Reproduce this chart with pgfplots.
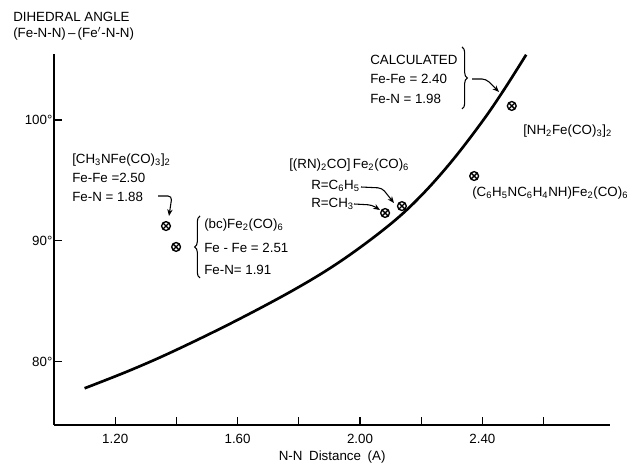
\documentclass[border=0pt]{standalone}
\usepackage{fontspec}
\setmainfont{Liberation Sans}
\usepackage{pgfplots}
\pgfplotsset{compat=1.18}
\usetikzlibrary{decorations.pathreplacing,arrows.meta,plotmarks}

\newcommand{\sub}[1]{\textsubscript{#1}}

\begin{document}
\begin{tikzpicture}
\begin{axis}[
  x=229.5pt, y=9.06pt,
  xmin=1.0, xmax=2.818, ymin=74.76, ymax=105.5,
  axis lines=left, axis line style={-, line width=0.9pt},
  tick align=inside, major tick length=6pt, minor tick length=6pt,
  tick style={line width=0.9pt, black},
  xtick={1.2,1.6,2.0,2.4}, xticklabels={1.20,1.60,2.00,2.40},
  minor xtick={1.4,1.8,2.2,2.6},
  ytick={80,90,100}, yticklabels={80°,90°,100°},
  ticklabel style={font=\fontsize{10}{12}\selectfont},
  xticklabel style={anchor=center, yshift=-10.5pt},
  yticklabel style={inner xsep=1pt},
  xlabel={N-N\enspace Distance\enspace (A)},
  xlabel style={at={(axis description cs:0.5,0)}, anchor=center, yshift=-24pt,
    font=\fontsize{10}{12}\selectfont},
  clip=false,
]
% calculated curve
\addplot[line width=2pt, smooth, tension=0.6, no markers] coordinates {
  (1.10,77.80) (1.25,79.30) (1.40,80.98) (1.60,83.46) (1.80,86.18)
  (1.95,88.55) (2.10,91.40) (2.20,93.75) (2.30,96.60) (2.40,99.90)
  (2.47,102.49) (2.543,105.41)
};
% observed compounds
\addplot[only marks, mark=otimes, mark size=3.3pt, line width=1pt] coordinates {
  (1.366,91.23) (1.399,89.50) (2.082,92.31) (2.137,92.88) (2.373,95.37) (2.496,101.17)
};
\coordinate (LL) at (rel axis cs:0,0);
\end{axis}

\begin{scope}[shift={(LL)}, xshift=-40.5pt, yshift=318.75pt, x=0.75pt, y=-0.75pt,
  every node/.style={inner sep=0pt, anchor=west, font=\fontsize{10}{12}\selectfont},
  arr/.style={line width=0.8pt, -{Stealth[length=5pt,width=4pt]}, rounded corners=3pt}]
\node at (13,17) {DIHEDRAL ANGLE};
\node at (13,34) {(Fe-N-N)\,--\,(Fe$'$-N-N)};

\node at (72,160) {[CH\sub{3}NFe(CO)\sub{3}]\sub{2}};
\node at (72,178) {Fe-Fe =2.50};
\node at (72,197) {Fe-N = 1.88};
\draw[arr] (158,196) -- (172,196) -- (169,216);

\draw[line width=0.8pt, decorate, decoration={brace, amplitude=4pt}] (200,278) -- (200,216);
\node at (204,225) {(bc)Fe\sub{2}(CO)\sub{6}};
\node at (204,248) {Fe - Fe = 2.51};
\node at (204,270) {Fe-N= 1.91};

\node at (289,165) {[(RN)\sub{2}CO]\,Fe\sub{2}(CO)\sub{6}};
\node at (311,186) {R=C\sub{6}H\sub{5}};
\node at (311,204) {R=CH\sub{3}};
\draw[arr] (361,187) -- (382,188) -- (394,203);
\draw[arr] (354,204) -- (372,205) -- (380,210);

\node at (370,60) {CALCULATED};
\node at (370,79) {Fe-Fe = 2.40};
\node at (370,99) {Fe-N = 1.98};
\draw[line width=0.8pt, decorate, decoration={brace, amplitude=4pt}] (462,47) -- (462,109);
\draw[arr] (472,79) -- (486,79) -- (499,92);

\node at (523,131) {[NH\sub{2}Fe(CO)\sub{3}]\sub{2}};
\node at (472,193) {(C\sub{6}H\sub{5}NC\sub{6}H\sub{4}NH)Fe\sub{2}(CO)\sub{6}};

\pgfresetboundingbox
\path[use as bounding box] (0,0) rectangle (643,466);
\end{scope}
\end{tikzpicture}
\end{document}
